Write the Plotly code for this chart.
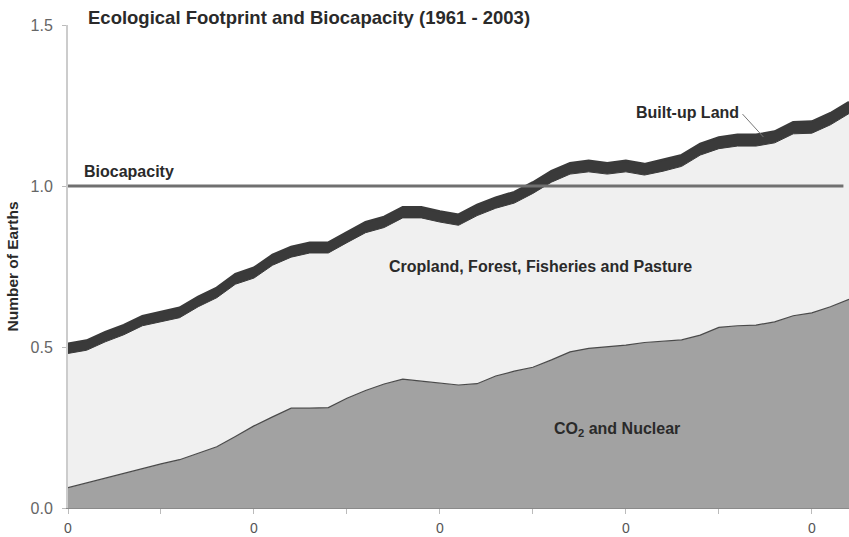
import plotly.graph_objects as go

# ---- data ----
years = list(range(1961, 2004))
co2_nuclear = [0.063, 0.078, 0.093, 0.108, 0.124, 0.137, 0.150, 0.170, 0.190, 0.222,
               0.255, 0.283, 0.310, 0.310, 0.312, 0.341, 0.365, 0.385, 0.400, 0.394,
               0.388, 0.382, 0.386, 0.410, 0.425, 0.437, 0.460, 0.485, 0.496, 0.500,
               0.506, 0.514, 0.518, 0.522, 0.537, 0.561, 0.566, 0.568, 0.578, 0.597,
               0.606, 0.625, 0.648]
total_footprint = [0.510, 0.520, 0.546, 0.568, 0.596, 0.610, 0.622, 0.656, 0.684, 0.726,
                   0.746, 0.786, 0.811, 0.824, 0.824, 0.856, 0.888, 0.904, 0.934, 0.934,
                   0.921, 0.911, 0.941, 0.964, 0.981, 1.011, 1.046, 1.071, 1.078, 1.071,
                   1.078, 1.068, 1.081, 1.096, 1.131, 1.151, 1.159, 1.159, 1.169, 1.198,
                   1.200, 1.226, 1.261]
built_up = [0.030, 0.030, 0.030, 0.030, 0.030, 0.031, 0.031, 0.031, 0.031, 0.031,
            0.032, 0.032, 0.032, 0.032, 0.032, 0.032, 0.033, 0.033, 0.033, 0.033,
            0.033, 0.033, 0.033, 0.033, 0.034, 0.034, 0.034, 0.034, 0.034, 0.034,
            0.034, 0.034, 0.035, 0.035, 0.035, 0.035, 0.035, 0.035, 0.035, 0.036,
            0.036, 0.036, 0.036]
biocapacity = [1.0, 1.0]
biocap_years = [1961, 2002.7]

x_tickvals = [1961, 1966, 1971, 1976, 1981, 1986, 1991, 1996, 2001]
x_ticktext = ["0", "", "0", "", "0", "", "0", "", "0"]
y_tickvals = [0.0, 0.5, 1.0, 1.5]
y_ticktext = ["0.0", "0.5", "1.0", "1.5"]

cropland_top = [t - b for t, b in zip(total_footprint, built_up)]

FONT = "Liberation Sans, Arial, sans-serif"

fig = go.Figure()
fig.add_trace(go.Scatter(x=years, y=co2_nuclear, mode="lines", fill="tozeroy",
                         fillcolor="#a2a2a2", line=dict(color="#4a4a4a", width=1.2),
                         hoverinfo="skip", showlegend=False))
fig.add_trace(go.Scatter(x=years, y=cropland_top, mode="lines", fill="tonexty",
                         fillcolor="#f0f0f0", line=dict(color="#3a3a3a", width=1),
                         hoverinfo="skip", showlegend=False))
fig.add_trace(go.Scatter(x=years, y=total_footprint, mode="lines", fill="tonexty",
                         fillcolor="#3a3a3a", line=dict(color="#3a3a3a", width=2.5),
                         hoverinfo="skip", showlegend=False))
fig.add_trace(go.Scatter(x=biocap_years, y=biocapacity, mode="lines",
                         line=dict(color="#707070", width=3),
                         hoverinfo="skip", showlegend=False))

txt = dict(family=FONT, size=16, color="#2a2a2a")
fig.add_annotation(x=1961.75, y=1.0, yshift=15, text="<b>Biocapacity</b>", showarrow=False,
                   xanchor="left", font=txt)
fig.add_annotation(x=1986.4, y=0.75, text="<b>Cropland, Forest, Fisheries and Pasture</b>",
                   showarrow=False, font=txt)
fig.add_annotation(x=1990.5, y=0.245, text="<b>CO<sub>2</sub> and Nuclear</b>",
                   showarrow=False, font=txt)
fig.add_annotation(x=1994.3, y=1.227, text="<b>Built-up Land</b>", showarrow=False,
                   font=txt)
fig.add_annotation(x=1998.4, y=1.152, ax=1997.2, ay=1.228, axref="x", ayref="y",
                   text="", showarrow=True, arrowhead=0, arrowcolor="#777",
                   arrowwidth=1, standoff=0, startstandoff=0)
fig.add_annotation(xref="paper", yref="paper", x=0.023, y=1.0, yshift=8,
                   text="<b>Ecological Footprint and Biocapacity (1961 - 2003)</b>",
                   showarrow=False, xanchor="left", yanchor="middle",
                   font=dict(family=FONT, size=18.5, color="#2a2a2a"))

fig.update_layout(
    width=849, height=537,
    margin=dict(l=68, r=0, t=25, b=29, autoexpand=False),
    paper_bgcolor="white", plot_bgcolor="white",
    xaxis=dict(range=[1961, 2003], tickvals=x_tickvals, ticktext=x_ticktext,
               automargin=False,
               showgrid=False, zeroline=False, showline=True, linecolor="#8a8a8a",
               linewidth=1, ticks="outside", ticklen=5, tickcolor="#bbbbbb",
               ticklabelstandoff=2,
               tickfont=dict(family=FONT, size=14, color="#555555")),
    yaxis=dict(range=[0, 1.5], tickvals=y_tickvals, ticktext=y_ticktext,
               automargin=False,
               showgrid=False, zeroline=False, showline=True, linecolor="#cccccc",
               linewidth=2, ticks="outside", ticklen=4, tickcolor="#bbbbbb",
               ticklabelstandoff=6,
               tickfont=dict(family=FONT, size=16, color="#666666"),
               title=dict(text="<b>Number of Earths</b>", standoff=8,
                          font=dict(family=FONT, size=15.5, color="#2a2a2a"))),
)

fig.write_html("out.html", config={"displayModeBar": False},
               post_script="document.body.style.margin='0px';")
